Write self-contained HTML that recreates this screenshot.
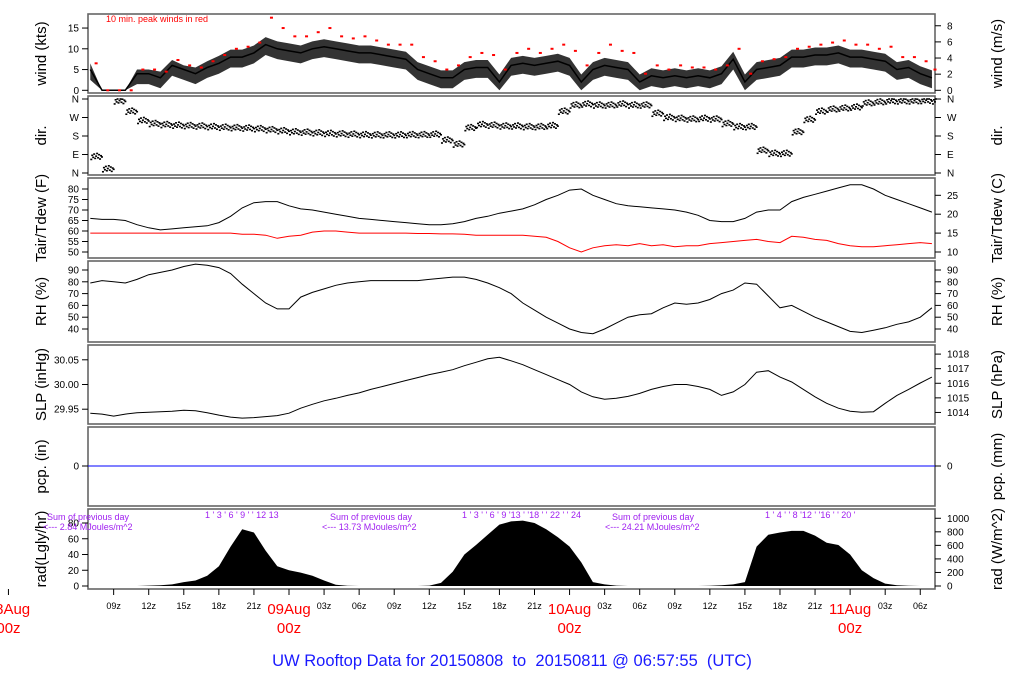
<!DOCTYPE html>
<html><head><meta charset="utf-8"><title>UW Rooftop Data</title>
<style>
html,body{margin:0;padding:0;background:#fff;}
svg{display:block;font-family:"Liberation Sans",Arial,sans-serif;}
</style></head>
<body>
<svg id="chart" width="1024" height="700" viewBox="0 0 1024 700" xmlns="http://www.w3.org/2000/svg">
<rect x="0" y="0" width="1024" height="700" fill="#fff"/>
<g id="layer"></g>
<text x="106" y="22" font-size="9" fill="#f00">10 min. peak winds in red</text>
<text x="512" y="666" font-size="16.5" fill="#1a1aff" text-anchor="middle" xml:space="preserve" style="white-space:pre">UW Rooftop Data for 20150808  to  20150811 @ 06:57:55  (UTC)</text>
</svg>
<script>
// hours relative to 09Aug 00z, one value per hour starting at t0
const t0 = -17;
const windKts = [5,0,0,0,4,4,3,6,5,4,5.5,6.5,8,8,9,11,10,9.5,9,10,10.5,10,9.5,9,9,8.5,8,7.5,5,4,3,3,5,5.5,5.5,2,6,6.5,6,6.5,7,6,2,5,6,5.5,5,2,3.5,3,3.5,3,3.5,3,4,7.5,2,5,5.5,6,8,8,8.5,8.5,9,8,8,7.5,7,5,5.5,4,3];
const windPeak = [6.5,0,0,0,5,5,4.5,7.3,6,5.5,7,8.5,10,10.5,11.5,17.5,15,13,13,14,15,13,12.5,13,12,11,11,11,8,7,5,6,8,9,8.5,5,9,10,9,10,11,9.5,6,9,11,9.5,9,4,6,5,6,5.5,5.5,5,6,10,4,7,7.5,8,10,10.5,11,11.5,12,11,11,10,10.5,8,8,7,5];
const windDir = [80,20,350,300,255,240,235,232,230,228,225,222,220,218,215,210,205,200,198,195,192,190,188,186,185,185,185,186,186,188,160,140,220,235,232,228,228,225,225,230,300,330,335,330,330,335,330,330,290,270,265,262,265,262,240,225,225,110,95,95,200,260,300,310,315,320,340,345,350,350,350,352,350];
const tairF = [66,65.5,65.5,65,63,61.5,60.5,61,61.5,62,62.5,64,67,71,73.5,74,74,72,70.5,70,69,68,67,66,65.5,65,64.5,64,63.5,63,63,63.5,64.5,66,67,68.5,69.5,70.5,72.5,75,77,79.5,80,77,75,73,72,71.5,71,70.5,70,69,67.5,65,64.5,64.5,66,69,70,70,74,76,77.5,79,80.5,82,82,80,77,75,73,71,69];
const tdewF = [59,59,59,59,59,59,59,59,59,59,59,59,59,58.5,58.5,58,56.5,57.5,58,59.5,60,60,59.5,59,59,59,59,59,58.8,58.8,58.6,58.6,58.5,58,58,58,58,58,57.5,57,55,52,50,52,53,53.5,53,54,53,53.5,52.5,53,53,54,54.5,55,55.5,56,55,54.5,57.5,57,56,55.5,54,53,52.5,52.5,53,53.5,54,54.5,54];
const rhPct = [79,81,80,79,82,86,88,90,93,95,94,92,87,78,70,62,57,57,67,71,74,77,79,80,81,81,81,81,81,82,83,84,84,82,79,75,70,62,56,50,45,40,37,36,40,45,50,52,53,58,62,61,62,65,70,73,79,78,68,58,60,55,50,46,42,38,37,39,41,44,46,50,58];
const slpIn = [29.942,29.940,29.936,29.940,29.943,29.944,29.945,29.946,29.948,29.947,29.943,29.938,29.934,29.932,29.933,29.935,29.937,29.942,29.952,29.960,29.967,29.972,29.978,29.983,29.990,29.996,30.002,30.008,30.014,30.020,30.025,30.030,30.038,30.045,30.052,30.055,30.048,30.040,30.030,30.020,30.010,30.000,29.985,29.975,29.970,29.972,29.976,29.982,29.990,29.996,30.000,30.000,29.996,29.990,29.978,29.985,30.000,30.025,30.028,30.015,30.005,29.990,29.975,29.962,29.952,29.946,29.944,29.945,29.962,29.978,29.990,30.003,30.015];
const radLgly = [0,0,0,0,0,0.5,1,2,5,7,13,25,50,72,68,45,25,20,17,13,7,1.5,0.3,0,0,0,0,0,0,0.5,4,18,40,52,65,78,82,83,80,72,62,50,30,5,2,0.5,0,0,0,0,0,0,0,0.3,1,2,5,50,65,68,70,70,64,55,52,40,20,10,3,1,0.3,0,0];
const pcpIn = 0;

const windTicks = [0,5,10,15];
const windMsTicks = [0,2,4,6,8];
const dirTicks = [[0,'N'],[90,'E'],[180,'S'],[270,'W'],[360,'N']];
const tairTicks = [50,55,60,65,70,75,80];
const tairCTicks = [10,15,20,25];
const rhTicks = [40,50,60,70,80,90];
const slpTicks = [29.95,30.00,30.05];
const slpHpaTicks = [1014,1015,1016,1017,1018];
const radTicks = [0,20,40,60,80];
const radWTicks = [0,200,400,600,800,1000];
const hourTicks = [[-15,'09z'],[-12,'12z'],[-9,'15z'],[-6,'18z'],[-3,'21z'],[3,'03z'],[6,'06z'],[9,'09z'],[12,'12z'],[15,'15z'],[18,'18z'],[21,'21z'],[27,'03z'],[30,'06z'],[33,'09z'],[36,'12z'],[39,'15z'],[42,'18z'],[45,'21z'],[51,'03z'],[54,'06z']];
const dayTicks = [[-24,'08Aug'],[0,'09Aug'],[24,'10Aug'],[48,'11Aug']];

const NS='http://www.w3.org/2000/svg';
const layer=document.getElementById('layer');
const L=88,R=935;
function X(t){return 289+11.69*t;}
function yW(v){return 90.3-v*4.15;}
function yD(d){return 173-d/360*74;}
function yT(f){return 189+(80-f)*2.1;}
function yR(h){return 270+(90-h)*1.18;}
function yS(p){return 384.5-(p-30)*494;}
function yP(v){return 466-v*300;}
function yQ(v){return 586-v*0.7875;}
function el(tag,attrs,parent){const e=document.createElementNS(NS,tag);for(const k in attrs)e.setAttribute(k,attrs[k]);(parent||layer).appendChild(e);return e;}
function txt(x,y,s,attrs){const e=el('text',Object.assign({x:x,y:y,'font-size':10,fill:'#000'},attrs||{}));e.textContent=s;return e;}

const panels=[
 {name:'wind',top:14,bot:93,lt:'wind (kts)',rt:'wind (m/s)'},
 {name:'dir',top:96,bot:175,lt:'dir.',rt:'dir.'},
 {name:'temp',top:178,bot:258,lt:'Tair/Tdew (F)',rt:'Tair/Tdew (C)'},
 {name:'rh',top:261,bot:342,lt:'RH (%)',rt:'RH (%)'},
 {name:'slp',top:345,bot:424,lt:'SLP (inHg)',rt:'SLP (hPa)'},
 {name:'pcp',top:427,bot:506,lt:'pcp. (in)',rt:'pcp. (mm)'},
 {name:'rad',top:509,bot:589,lt:'rad(Lgly/hr)',rt:'rad (W/m^2)'}
];
panels.forEach(p=>{
  const f=el('rect',{x:L,y:p.top,width:R-L,height:p.bot-p.top,fill:'none',stroke:'#666','stroke-width':1.6});
  
  
  const cy=(p.top+p.bot)/2;
  const a=txt(0,0,p.lt,{'font-size':15,'text-anchor':'middle',transform:'translate(46,'+cy+') rotate(-90)'});
  
  
  const b=txt(0,0,p.rt,{'font-size':15,'text-anchor':'middle',transform:'translate(1002,'+cy+') rotate(-90)'});
  
  
});
function lt(y,s,name){el('line',{x1:L-6,x2:L,y1:y,y2:y,stroke:'#000'});const t=txt(L-9,y+3.5,s,{'text-anchor':'end'});}
function rtk(y,s,name){el('line',{x1:R,x2:R+6,y1:y,y2:y,stroke:'#000'});const t=txt(R+12,y+3.5,s,{});}
windTicks.forEach(v=>lt(yW(v),String(v),'wind-tick-label'));
windMsTicks.forEach(v=>rtk(yW(v*1.944),String(v),'wind-ms-tick-label'));
dirTicks.forEach(d=>{lt(yD(d[0]),d[1],'dir-tick-label');rtk(yD(d[0]),d[1],'dir-tick-label');});
tairTicks.forEach(v=>lt(yT(v),String(v),'temp-tick-label'));
tairCTicks.forEach(v=>rtk(yT(v*1.8+32),String(v),'temp-c-tick-label'));
rhTicks.forEach(v=>{lt(yR(v),String(v),'rh-tick-label');rtk(yR(v),String(v),'rh-tick-label');});
slpTicks.forEach(v=>lt(yS(v),v.toFixed(2),'slp-tick-label'));
slpHpaTicks.forEach(v=>rtk(yS(v*0.02953),String(v),'slp-hpa-tick-label'));
lt(yP(0),'0','pcp-tick-label');rtk(yP(0),'0','pcp-mm-tick-label');
radTicks.forEach(v=>lt(yQ(v),String(v),'rad-tick-label'));
radWTicks.forEach(v=>rtk(yQ(v*0.086),String(v),'rad-w-tick-label'));

// time axis
hourTicks.forEach(h=>{const x=X(h[0]);el('line',{x1:x,x2:x,y1:589,y2:595,stroke:'#000'});const t=txt(x,609,h[1],{'font-size':9,'text-anchor':'middle'});});
dayTicks.forEach(d=>{const x=X(d[0]);el('line',{x1:x,x2:x,y1:589,y2:595,stroke:'#000'});const a=txt(x,614,d[1],{'font-size':15,fill:'#f00','text-anchor':'middle'});const b=txt(x,633,'00z',{'font-size':15,fill:'#f00','text-anchor':'middle'});});

function pts(arr,fy,dt){return arr.map((v,i)=>X(t0+i+(dt||0)).toFixed(1)+','+fy(v).toFixed(1)).join(' ');}
function clip(x){return Math.max(L,Math.min(R,x));}

// wind band + line
const hi=windKts.map((v,i)=>X(t0+i)+','+yW(Math.min(v+1.8,windPeak[i]))).join(' ');
const lo=windKts.map((v,i)=>X(t0+i)+','+yW(Math.max(0,v-2.5))).reverse().join(' ');
const band=el('polygon',{points:hi+' '+lo,fill:'#333'});


const wl=el('polyline',{points:pts(windKts,yW),fill:'none',stroke:'#000','stroke-width':1.5});


windPeak.forEach((v,i)=>{const x=clip(X(t0+i+0.5));const r=el('rect',{x:x-1.5,y:yW(v)-1,width:3,height:2,fill:'#f00'});

});

// direction dots
const jit=[-14,6,-4,12,-9,2,15,-6,9,-12,4,-2];
windDir.forEach((d,i)=>{jit.forEach((j,k)=>{const x=X(t0+i+k/12);if(x<L||x>R)return;let v=Math.max(0,Math.min(360,d+j));
const r=el('rect',{x:x,y:yD(v)-0.8,width:2,height:1.6,fill:'#000'});

});});

const tl=el('polyline',{points:pts(tairF,yT),fill:'none',stroke:'#000','stroke-width':1});


const dl=el('polyline',{points:pts(tdewF,yT),fill:'none',stroke:'#f00','stroke-width':1});


const rl=el('polyline',{points:pts(rhPct,yR),fill:'none',stroke:'#000','stroke-width':1});


const sl=el('polyline',{points:pts(slpIn,yS),fill:'none',stroke:'#000','stroke-width':1});


const pl=el('line',{x1:L,x2:R,y1:yP(pcpIn),y2:yP(pcpIn),stroke:'#00f','stroke-width':1});


const ra=el('polygon',{points:X(t0)+','+yQ(0)+' '+pts(radLgly,yQ)+' '+X(t0+radLgly.length-1)+','+yQ(0),fill:'#000'});



// purple annotations
const purple='#a020f0';
[[47,43,'2.84'],[330,322,'13.73'],[612,605,'24.21']].forEach(s=>{
 const a=txt(s[0],520,'Sum of previous day',{'font-size':9,fill:purple});
 const b=txt(s[1],530,'<--- '+s[2]+' MJoules/m^2',{'font-size':9,fill:purple});
});
[[205,"1  ' 3  ' 6 ' 9 ' '  12   13"],[462,"1 ' 3 ' ' 6 ' 9 '13 ' '18 ' ' 22 ' ' 24"],[765,"1 ' 4 ' ' 8 '12 ' '16 ' ' 20 '"]].forEach(s=>{
 const a=txt(s[0],518,s[1],{'font-size':9,fill:purple,'xml:space':'preserve'});
});
</script>
</body></html>
